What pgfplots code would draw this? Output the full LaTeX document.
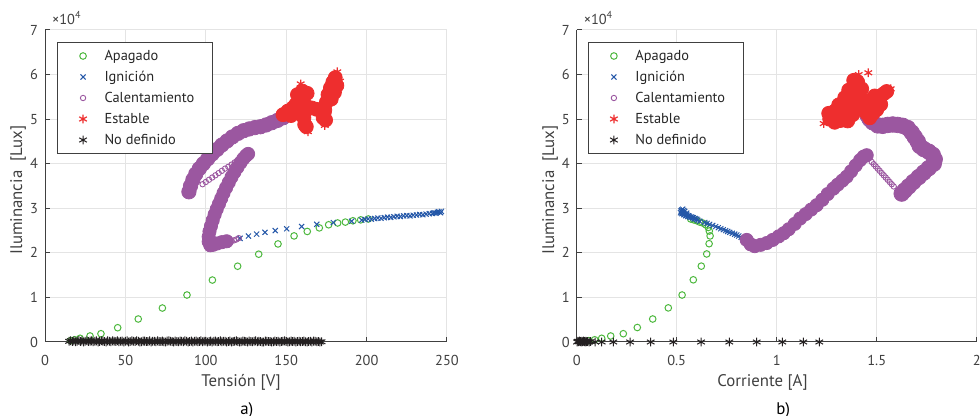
\documentclass[border=0pt]{standalone}
\usepackage{fontspec}
\setmainfont{PT Sans}
\usepackage{pgfplots}
\pgfplotsset{compat=1.18}

\definecolor{cgreen}{RGB}{77,184,62}
\definecolor{cblue}{RGB}{36,87,168}
\definecolor{cpurple}{RGB}{155,87,160}
\definecolor{cred}{RGB}{238,46,46}
\definecolor{cblack}{RGB}{35,31,32}
\definecolor{cgrid}{RGB}{228,228,228}
\definecolor{caxis}{RGB}{64,64,64}

\pgfplotsset{
  lamp/.style={
    scale only axis, height=156pt,
    ymin=0, ymax=70000,
    ytick={0,10000,20000,30000,40000,50000,60000,70000},
    yticklabels={0,1,2,3,4,5,6,7},
    scaled y ticks=false,
    axis x line*=bottom, axis y line*=left,
    axis line style={caxis, line width=0.5pt, -},
    grid=major, grid style={cgrid, line width=0.5pt},
    tick align=inside, major tick length=2.5pt,
    tick style={caxis, line width=0.5pt},
    tick label style={font=\fontsize{7.2}{8}\selectfont, text=caxis},
    xticklabel style={yshift=-3pt},
    /pgf/number format/assume math mode=true,
    clip=false,
    legend cell align=left,
    legend image code/.code={
      \path (0pt,-2pt) (19pt,2pt);
      \draw[##1] plot coordinates {(9.5pt,0pt)};},
    legend style={
      draw=caxis, line width=0.5pt, fill=white, text=black!85,
      inner xsep=3pt, inner ysep=1.5pt,
      font=\fontsize{7.2}{8}\selectfont,
      nodes={inner xsep=1pt, inner ysep=1.75pt, text height=5.5pt, text depth=1.5pt},
      row sep=0pt, column sep=0pt,
    },
  },
  apag/.style={only marks, mark=o, mark size=1.65pt, cgreen, mark options={line width=0.5pt}},
  ign/.style={only marks, mark=x, mark size=1.8pt, cblue, mark options={line width=0.5pt}},
  calband/.style={only marks, mark=*, mark size=3.3pt, cpurple, forget plot},
  cal/.style={only marks, mark=o, mark size=1.35pt, cpurple, mark options={line width=0.45pt}},
  estband/.style={only marks, mark=*, mark size=3.5pt, cred, forget plot},
  est/.style={only marks, mark=asterisk, mark size=2.2pt, cred, mark options={line width=0.6pt}},
  nodef/.style={only marks, mark=asterisk, mark size=2.2pt, cblack, mark options={line width=0.5pt}},
}

\begin{document}
\begin{tikzpicture}
\path[use as bounding box] (0,0) rectangle (490pt,208pt);

% ---------------- a) Tension ----------------
\begin{axis}[lamp, at={(22.5pt,37pt)}, anchor=south west, width=201pt,
  xmin=0, xmax=250, xtick={0,50,100,150,200,250},
  legend style={at={(rel axis cs:0.03,0.9615)}, anchor=north west}]

\addplot[apag] coordinates {
 (16,300) (18.5,500) (21.8,830) (28,1350) (34.8,1860) (45.2,3200) (58.0,5160)
 (73.0,7620) (88.3,10540) (104.1,13900) (119.8,17000) (132.9,19700) (144.9,22000)
 (154.9,23800) (163.1,24800) (170.6,25600) (176.4,26300) (182.0,26700) (186.8,26900)
 (191.5,27200) (196.3,27400) (201.1,27600)};
\addlegendentry{Apagado}

\addplot[ign] coordinates {
 (121.3,23250) (126.5,23770) (131.6,24200) (136.8,24600) (143.2,25000) (150.3,25400)
 (159.6,25900) (169,26400) (179.3,26800) (190.7,27100) (197,27350)
 (199,27500) (201,27600) (203,27550) (205,27700) (207,27800) (209,27750) (211,27900)
 (213,28000) (215,27950) (217,28100) (219,28200) (221,28150) (223,28300) (225,28350)
 (227,28300) (229,28450) (231,28500) (233,28600) (235,28550) (237,28700) (239,28800)
 (241,28850) (242,29000) (243,28900) (244,29100) (245,29200) (246,29000) (246.5,29300)};
\addlegendentry{Ignición}

% dense warm-up bands (overlapping markers)
\addplot[calband] coordinates {
 (113,22600) (110,22400) (107,22100) (104.5,21800) (102.8,21700) (101.8,22500)
 (101.8,23600) (102.3,24800) (103.2,26000) (104.3,27300) (105.5,28600) (106.8,29800)
 (108.2,31000) (109.6,32200) (111.0,33400) (112.6,34600) (114.3,35800) (116.0,37000)
 (117.8,38100) (119.7,39200) (121.5,40200) (123.3,41100) (125.0,41800) (126.3,42200)};
\addplot[calband, mark size=3.6pt] coordinates {
 (89.5,33700) (90.5,35000) (92.0,36400) (93.8,37700) (96.0,38900) (98.5,40000)
 (101.2,41100) (104,42200) (107,43200) (110,44200) (113.2,45100) (116.5,46000)
 (120,46800) (123.5,47400) (127,47800) (130.5,48100) (134,48300) (137.5,48700)
 (141,49200) (144.5,49700) (148,50300) (151,51000)};
\addplot[cal] coordinates {
 (120.5,23300) (119,23000) (117.5,22800) (116,22700)
 (120.0,40800) (118.0,40300) (116.0,39800) (114.0,39300) (112.0,38900) (110.0,38400)
 (108.0,37900) (106.0,37400) (104.0,36900) (102.0,36400) (100.0,35900) (98.0,35400)};
\addlegendentry{\makebox[50pt][l]{Calentamiento}}

\addplot[estband] coordinates {
 (148,51000) (151,51800) (154,52500) (156,53300) (153,50800) (157,51500)
 (157,55500) (160,56300) (163,55800) (159,54500)
 (160,52000) (161,50300) (161.5,48800) (163,52800) (162.5,48300)
 (166,52500) (169,52200)
 (173,50300) (174,52000) (175,53800) (173.5,51200) (174.5,49800)
 (176,55500) (177.5,57000) (179,58300) (180.5,59300) (181.5,57500) (178,54500) (180,56000)};
\addplot[est] coordinates {(181.8,60600) (159,57900) (163.5,47200) (174,48600) (183.5,58500)};
\addlegendentry{Estable}

\addplot[nodef] coordinates {
 (15,150) (16,300) (17,100) (18,250) (19,50) (20,200) (21,350) (22,100) (23,250) (24,0)
 (25,150) (26,300) (27,100) (28,200) (29,250) (30,50) (31,150) (32,250) (33,0) (34,100)
 (35,300) (36,200) (37,100) (38,0) (39,250) (40,150) (41,50) (42,250) (43,150) (44,100)
 (45,300) (46,50) (47,150) (48,200) (49,0) (50,150) (51,250) (52,0) (53,100) (54,250)
 (55,150) (56,100) (57,300) (58,150) (59,0) (60,50) (61,200) (62,200) (63,100) (64,100)
 (65,250) (66,0) (67,150) (68,150) (69,50) (70,250) (71,100) (72,100) (73,200) (74,50)
 (75,0) (76,200) (77,250) (78,150) (79,100) (80,0) (81,200) (82,100) (83,50) (84,200)
 (85,150) (86,50) (87,250) (88,150) (89,0) (90,100) (91,200) (92,0) (93,150) (94,200)
 (95,50) (96,100) (97,250) (98,50) (99,150) (100,150) (101,0) (102,100) (103,200)
 (104,0) (105,150) (106,200) (107,50) (108,100) (109,250) (110,50) (111,150) (112,150)
 (113,0) (114,100) (115,200) (116,0) (117,100) (118,150) (119,250) (120,100) (121,0)
 (122,50) (123,200) (124,150) (125,100) (126,0) (127,200) (128,100) (129,50) (130,150)
 (131,250) (132,50) (133,150) (134,100) (135,0) (136,0) (137,200) (138,150) (139,100)
 (140,100) (141,0) (142,50) (143,200) (144,100) (145,150) (146,0) (147,100) (148,150)
 (149,250) (150,100) (151,0) (152,50) (153,200) (154,100) (155,150) (156,0) (157,100)
 (158,150) (159,50) (160,100) (161,200) (162,50) (163,0) (164,100) (165,150) (166,0)
 (167,200) (168,150) (169,50) (170,100) (171,0) (172,50)};
\addlegendentry{No definido}

\node[anchor=base west, font=\fontsize{7.2}{8}\selectfont, text=caxis, yshift=2.5pt]
  at (rel axis cs:0,1) {×10\textsuperscript{4}};
\node[font=\fontsize{8.4}{10}\selectfont, text=caxis] at (rel axis cs:0.4876,-0.131) {Tensión [V]};
\node[font=\fontsize{8.4}{10}\selectfont, text=caxis, rotate=90] at (rel axis cs:-0.067,0.487) {Iluminancia\ \ [Lux]};
\node[font=\fontsize{8.4}{10}\selectfont, text=black] at (rel axis cs:0.502,-0.218) {a)};
\end{axis}

% ---------------- b) Corriente ----------------
\begin{axis}[lamp, at={(288.35pt,37pt)}, anchor=south west, width=200pt,
  xmin=0, xmax=2, xtick={0,0.5,1,1.5,2},
  legend style={at={(rel axis cs:0.028,0.9615)}, anchor=north west}]

\addplot[apag] coordinates {
 (0.06,300) (0.09,500) (0.125,830) (0.17,1350) (0.233,1860) (0.303,3250) (0.38,5160)
 (0.458,7650) (0.527,10540) (0.583,13950) (0.623,17020) (0.65,19750) (0.662,22050)
 (0.667,23800) (0.663,24900) (0.658,25700) (0.645,26300) (0.63,26700) (0.615,26900)
 (0.6,27200) (0.585,27400) (0.57,27600)};
\addlegendentry{Apagado}

\addplot[ign] coordinates {
 (0.835,23250) (0.822,23500) (0.81,23770) (0.8,24000) (0.79,24200) (0.778,24400)
 (0.765,24600) (0.755,24800) (0.745,25000) (0.733,25200) (0.72,25400) (0.708,25650)
 (0.695,25900) (0.68,26150) (0.665,26400) (0.652,26600) (0.64,26800) (0.615,27100)
 (0.605,27350) (0.600,27550) (0.592,27700) (0.588,27600) (0.583,27850) (0.578,27900)
 (0.572,28050) (0.567,27950) (0.563,28200) (0.558,28300) (0.555,28150) (0.551,28450)
 (0.548,28500) (0.545,28350) (0.541,28650) (0.538,28700) (0.536,28550) (0.533,28850)
 (0.530,28900) (0.528,29100) (0.526,28800) (0.524,29250) (0.522,29400) (0.519,29000)
 (0.525,29600) (0.530,29800) (0.540,29300) (0.550,28900) (0.535,29500)};
\addlegendentry{Ignición}

\addplot[calband] coordinates {
 (0.85,22900) (0.87,21900) (0.89,21500) (0.92,21800) (0.95,22200) (0.98,22900)
 (1.01,23700) (1.035,24400) (1.06,25300) (1.09,26500) (1.117,27700) (1.145,28700)
 (1.172,29700) (1.2,30700) (1.228,31900) (1.255,33200) (1.283,34400) (1.305,35300)
 (1.328,36200) (1.35,37100) (1.372,38300) (1.395,39600) (1.417,40800) (1.435,41600)
 (1.45,41900)};
\addplot[calband, mark size=3.9pt] coordinates {
 (1.625,33300) (1.64,34000) (1.66,34900) (1.683,35900) (1.71,37000) (1.735,38000)
 (1.76,39000) (1.785,40000) (1.79,41000) (1.78,42000) (1.76,42700) (1.735,43300)
 (1.715,44000) (1.705,45000) (1.69,46000) (1.675,47000) (1.655,48000) (1.63,48500)
 (1.605,48700) (1.58,48800) (1.555,48700) (1.53,48500) (1.505,48600) (1.48,49300)
 (1.465,50000) (1.455,50800)};
\addplot[cal] coordinates {
 (1.475,40400) (1.485,39900) (1.495,39400) (1.505,38900) (1.515,38400) (1.525,37900)
 (1.535,37400) (1.545,36900) (1.555,36400) (1.565,35900) (1.575,35400) (1.585,34900)};
\addlegendentry{\makebox[50pt][l]{Calentamiento}}

\addplot[estband] coordinates {
 (1.265,50000) (1.29,49300) (1.32,49700) (1.26,51300) (1.29,51800) (1.32,51500)
 (1.345,50800) (1.31,53200) (1.34,53000) (1.36,52300) (1.34,54800) (1.37,55300)
 (1.385,54000) (1.36,56500) (1.39,57000) (1.405,55800) (1.405,58300) (1.385,58700)
 (1.42,54500) (1.40,52500) (1.38,51000) (1.355,49600)
 (1.43,52300) (1.45,51300) (1.445,53300) (1.425,56800)
 (1.465,50300) (1.48,51200) (1.48,52800) (1.5,53900) (1.515,54900) (1.535,55700)
 (1.55,56200) (1.5,52100) (1.47,54300) (1.52,53300) (1.49,55200)};
\addplot[est] coordinates {(1.458,60400) (1.235,49000) (1.57,56800) (1.41,60000)};
\addlegendentry{Estable}

\addplot[nodef] coordinates {
 (0.002,0) (0.006,150) (0.01,50) (0.014,200) (0.018,100) (0.022,0) (0.026,150)
 (0.03,50) (0.034,200) (0.038,100) (0.042,0) (0.046,150) (0.05,50) (0.055,100)
 (0.062,0) (0.07,100) (0.092,0) (0.125,0) (0.183,0) (0.267,0) (0.37,0) (0.483,0)
 (0.622,0) (0.763,0) (0.9,0) (1.028,0) (1.133,0) (1.213,0)};
\addlegendentry{No definido}

\node[anchor=base west, font=\fontsize{7.2}{8}\selectfont, text=caxis, yshift=2.5pt]
  at (rel axis cs:0,1) {×10\textsuperscript{4}};
\node[font=\fontsize{8.4}{10}\selectfont, text=caxis] at (rel axis cs:0.4645,-0.131) {Corriente [A]};
\node[font=\fontsize{8.4}{10}\selectfont, text=caxis, rotate=90] at (rel axis cs:-0.0668,0.487) {Iluminancia\ \ [Lux]};
\node[font=\fontsize{8.4}{10}\selectfont, text=black] at (rel axis cs:0.516,-0.218) {b)};
\end{axis}
\end{tikzpicture}
\end{document}
